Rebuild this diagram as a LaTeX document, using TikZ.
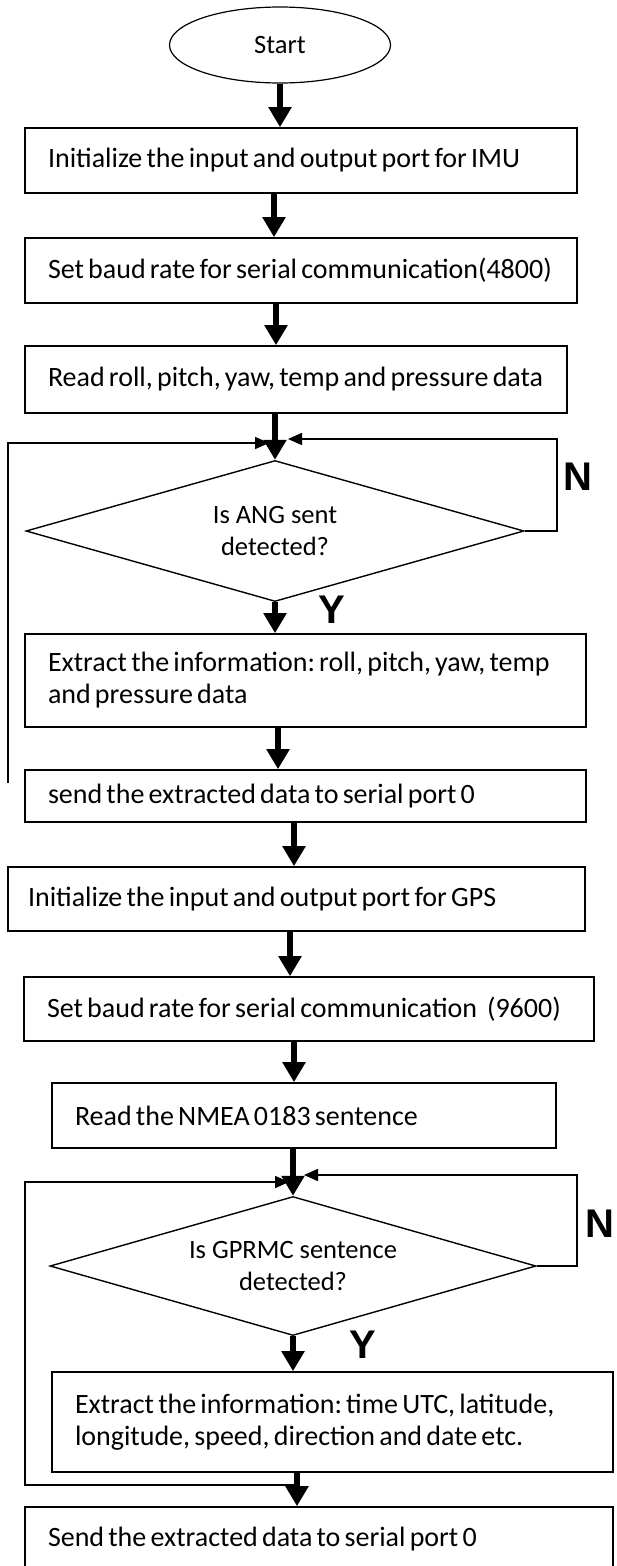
\documentclass[tikz,border=0pt]{standalone}
\usepackage{fontspec}
\setmainfont{Carlito}
\newfontfamily\labfont{Liberation Sans}
\usetikzlibrary{arrows.meta,shapes.geometric}
\begin{document}
\begin{tikzpicture}[x=1pt,y=-1pt,
  every node/.style={font=\fontsize{26.5}{32}\selectfont},
  box/.style={draw, line width=1.6pt, rectangle, inner xsep=23pt, inner ysep=0pt, align=left,
    font=\fontsize{28}{32}\selectfont,
    execute at begin node={\frenchspacing\spaceskip=0.15em\xspaceskip=0.15em\relax}},
  decision/.style={draw, line width=1.4pt, diamond, aspect=3.5, inner sep=0pt, align=center},
  term/.style={draw, line width=1.2pt, ellipse, inner sep=0pt},
  flow/.style={line width=6pt, -{Triangle[width=22pt,length=20pt]}},
  back/.style={line width=1.6pt, -{Triangle[width=12pt,length=14pt]}},
  yn/.style={font=\labfont\bfseries\fontsize{40}{40}\selectfont, inner sep=0pt}
]
\useasboundingbox (0,0) rectangle (616,1566);
\fill[white] (0,0) rectangle (616,1566);

% nodes
\node[term, minimum width=221pt, minimum height=76pt] (start) at (280,45) {Start};
\node[box, minimum width=552pt, text width=506pt, minimum height=65pt] (b1) at (301,160.5)
  {Initialize the input and output port for IMU};
\node[box, minimum width=552pt, text width=506pt, minimum height=65pt] (b2) at (301,270.5)
  {Set baud rate for serial communication(4800)};
\node[box, minimum width=542pt, text width=496pt, minimum height=67pt] (b3) at (296,379.5)
  {Read roll, pitch, yaw, temp and pressure data};
\node[decision, minimum width=498pt, minimum height=141pt] (d1) at (275,531)
  {Is ANG sent\\detected?};
\node[box, minimum width=561pt, text width=515pt, minimum height=93pt] (b4) at (305.5,680.5)
  {Extract the information: roll, pitch, yaw, temp\\and pressure data};
\node[box, minimum width=561pt, text width=515pt, minimum height=52pt] (b5) at (305.5,796)
  {send the extracted data to serial port 0};
\node[box, inner xsep=20pt, minimum width=577pt, text width=537pt, minimum height=64pt] (b6) at (296.5,899)
  {Initialize the input and output port for GPS};
\node[box, minimum width=570pt, text width=524pt, minimum height=64pt] (b7) at (309,1009)
  {Set baud rate for serial communication\hspace{10pt}(9600)};
\node[box, minimum width=504pt, text width=458pt, minimum height=65pt] (b8) at (304,1115.5)
  {Read the NMEA 0183 sentence};
\node[decision, minimum width=486pt, minimum height=139pt] (d2) at (293,1266)
  {Is GPRMC sentence\\detected?};
\node[box, minimum width=561pt, text width=515pt, minimum height=100pt] (b9) at (332.5,1422)
  {Extract the information: time UTC, latitude,\\longitude, speed, direction and date etc.};
\node[box, minimum width=588pt, text width=542pt, minimum height=64pt] (b10) at (319,1539)
  {Send the extracted data to serial port 0};

% labels
\node[yn] (n1) at (578,477) {N};
\node[yn] (y1) at (332,610) {Y};
\node[yn] (n2) at (600,1224) {N};
\node[yn] (y2) at (363,1345) {Y};

% arrow x positions
\coordinate (ax1) at (274,0);
\coordinate (ax2) at (276,0);
\coordinate (ax3) at (278,0);
\coordinate (ax4) at (294,0);
\coordinate (ax5) at (290,0);
\coordinate (ax6) at (297,0);

% main flow
\draw[flow] (start.south) -- (start.south |- b1.north);
\draw[flow] (b1.south -| ax1) -- (b2.north -| ax1);
\draw[flow] (b2.south -| ax2) -- (b3.north -| ax2);
\draw[flow] (b3.south -| d1.north) -- (d1.north);
\draw[flow] (d1.south) -- (d1.south |- b4.north);
\draw[flow] (b4.south -| ax3) -- (b5.north -| ax3);
\draw[flow] (b5.south -| ax4) -- (b6.north -| ax4);
\draw[flow] (b6.south -| ax5) -- (b7.north -| ax5);
\draw[flow] (b7.south -| ax4) -- (b8.north -| ax4);
\draw[flow] (b8.south -| d2.north) -- (d2.north);
\draw[flow] (d2.south) -- (d2.south |- b9.north);
\draw[flow] (b9.south -| ax6) -- (b10.north -| ax6);

% loops
\coordinate (l1a) at (8,783);
\coordinate (l1b) at (269,443);
\coordinate (n1b) at (288,439);
\draw[back] (l1a) |- (l1b);
\draw[back] (d1.east) -- ++(32,0) |- (n1b);

\coordinate (l2a) at (297,1485);
\coordinate (l2c) at (25,1485);
\coordinate (l2b) at (289,1182);
\coordinate (n2b) at (304,1175);
\draw[back] (l2a) -- (l2c) |- (l2b);
\draw[back] (d2.east) -- ++(40,0) |- (n2b);
\end{tikzpicture}
\end{document}
